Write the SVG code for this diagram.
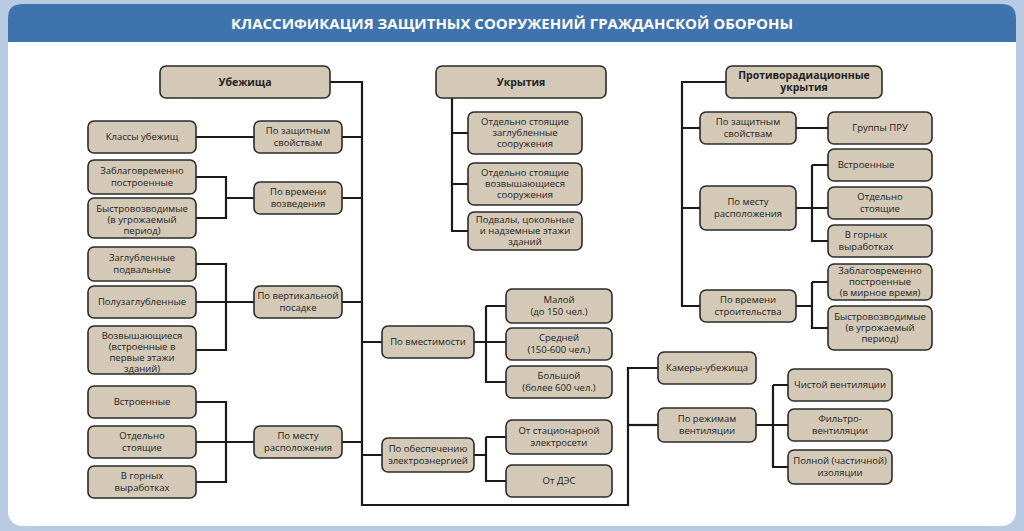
<svg xmlns="http://www.w3.org/2000/svg" width="1024" height="531" viewBox="0 0 1024 531">
<style>
.b{fill:#d3c9b6;stroke:#2b2b2b;stroke-width:1.6}
text{font-family:"Open Sans","Liberation Sans",sans-serif;font-size:9.5px;fill:#222;text-anchor:middle}
.h{font-weight:bold;font-size:10.5px}
.l{fill:none;stroke:#1a1a1a;stroke-width:2.2}
</style>
<rect width="1024" height="531" fill="#b9cbe3"/>
<rect x="8" y="4" width="1008" height="522" rx="14" fill="#fff"/>
<path d="M8,42 V18 Q8,4 22,4 H1002 Q1016,4 1016,18 V42 Z" fill="#3f73ad"/>
<text x="512" y="29" style="font-size:15px;font-weight:bold;fill:#fff">КЛАССИФИКАЦИЯ ЗАЩИТНЫХ СООРУЖЕНИЙ ГРАЖДАНСКОЙ ОБОРОНЫ</text>
<g id="connectors" class="l">
<path d="M330,82 H362 V505 H628 V368 H658"/>
<path d="M628,425 H658"/>
<path d="M196,137 H254 M342,137 H362"/>
<path d="M196,177 H226 V218 H196 M226,198 H254 M342,198 H362"/>
<path d="M196,264 H226 V350 H196 M196,302 H254 M342,302 H362"/>
<path d="M196,402 H226 V482 H196 M196,442 H254 M342,442 H362"/>
<path d="M362,342 H382 M474,342 H506 M486,306 H506 V306 M486,306 V382 H506"/>
<path d="M362,455 H382 M474,455 H486 M486,437 H506 M486,437 V481 H506"/>
<path d="M452,98 V231 H468 M452,133 H468 M452,184 H468"/>
<path d="M726,82 H682 V306 H700 M682,128 H700 M796,128 H828 M682,208 H700 M796,208 H828 M812,165 H828 M812,165 V241 H828 M796,306 H812 M812,282 H828 M812,282 V328 H828"/>
<path d="M756,425 H788 M773,385 H788 M773,385 V467 H788"/>
</g>
<g id="n1"><rect class="b" x="160" y="66" width="170" height="32" rx="6"/><text class="h" x="245" y="86">Убежища</text></g>
<g id="n2"><rect class="b" x="254" y="121" width="88" height="32" rx="6"/><text x="298" y="134">По защитным</text><text x="298" y="146">свойствам</text></g>
<g id="n3"><rect class="b" x="88" y="121" width="108" height="32" rx="6"/><text x="142" y="140">Классы убежищ</text></g>
<g id="n4"><rect class="b" x="254" y="182" width="88" height="32" rx="6"/><text x="298" y="195">По времени</text><text x="298" y="207">возведения</text></g>
<g id="n5"><rect class="b" x="88" y="160" width="108" height="34" rx="6"/><text x="142" y="174">Заблаговременно</text><text x="142" y="186">построенные</text></g>
<g id="n6"><rect class="b" x="88" y="198" width="108" height="40" rx="6"/><text x="142" y="212">Быстровозводимые</text><text x="142" y="223">(в угрожаемый</text><text x="142" y="234">период)</text></g>
<g id="n7"><rect class="b" x="254" y="286" width="88" height="32" rx="6"/><text x="298" y="299">По вертикальной</text><text x="298" y="311">посадке</text></g>
<g id="n8"><rect class="b" x="88" y="247" width="108" height="34" rx="6"/><text x="142" y="261">Заглубленные</text><text x="142" y="273">подвальные</text></g>
<g id="n9"><rect class="b" x="88" y="286" width="108" height="32" rx="6"/><text x="142" y="305">Полузаглубленные</text></g>
<g id="n10"><rect class="b" x="88" y="326" width="108" height="48" rx="6"/><text x="142" y="339">Возвышающиеся</text><text x="142" y="350">(встроенные в</text><text x="142" y="361">первые этажи</text><text x="142" y="372">зданий)</text></g>
<g id="n11"><rect class="b" x="254" y="426" width="88" height="32" rx="6"/><text x="298" y="439">По месту</text><text x="298" y="451">расположения</text></g>
<g id="n12"><rect class="b" x="88" y="386" width="108" height="32" rx="6"/><text x="142" y="405">Встроенные</text></g>
<g id="n13"><rect class="b" x="88" y="426" width="108" height="32" rx="6"/><text x="142" y="439">Отдельно</text><text x="142" y="451">стоящие</text></g>
<g id="n14"><rect class="b" x="88" y="466" width="108" height="32" rx="6"/><text x="142" y="479">В горных</text><text x="142" y="491">выработках</text></g>
<g id="n15"><rect class="b" x="382" y="326" width="92" height="32" rx="6"/><text x="428" y="345">По вместимости</text></g>
<g id="n16"><rect class="b" x="506" y="289" width="106" height="34" rx="6"/><text x="559" y="303">Малой</text><text x="559" y="315">(до 150 чел.)</text></g>
<g id="n17"><rect class="b" x="506" y="328" width="106" height="32" rx="6"/><text x="559" y="341">Средней</text><text x="559" y="353">(150-600 чел.)</text></g>
<g id="n18"><rect class="b" x="506" y="366" width="106" height="32" rx="6"/><text x="559" y="379">Большой</text><text x="559" y="391">(более 600 чел.)</text></g>
<g id="n19"><rect class="b" x="382" y="438" width="92" height="34" rx="6"/><text x="428" y="452">По обеспечению</text><text x="428" y="464">электроэнергией</text></g>
<g id="n20"><rect class="b" x="506" y="420" width="106" height="34" rx="6"/><text x="559" y="434">От стационарной</text><text x="559" y="446">электросети</text></g>
<g id="n21"><rect class="b" x="506" y="465" width="106" height="32" rx="6"/><text x="559" y="484">От ДЭС</text></g>
<g id="n22"><rect class="b" x="436" y="66" width="170" height="32" rx="6"/><text class="h" x="521" y="86">Укрытия</text></g>
<g id="n23"><rect class="b" x="468" y="112" width="114" height="42" rx="6"/><text x="525" y="125">Отдельно стоящие</text><text x="525" y="136">заглубленные</text><text x="525" y="147">сооружения</text></g>
<g id="n24"><rect class="b" x="468" y="163" width="114" height="42" rx="6"/><text x="525" y="176">Отдельно стоящие</text><text x="525" y="187">возвышающиеся</text><text x="525" y="198">сооружения</text></g>
<g id="n25"><rect class="b" x="468" y="212" width="114" height="38" rx="6"/><text x="525" y="223">Подвалы, цокольные</text><text x="525" y="234">и надземные этажи</text><text x="525" y="245">зданий</text></g>
<g id="n26"><rect class="b" x="726" y="66" width="156" height="32" rx="6"/><text class="h" x="804" y="79">Противорадиационные</text><text class="h" x="804" y="91">укрытия</text></g>
<g id="n27"><rect class="b" x="700" y="112" width="96" height="32" rx="6"/><text x="748" y="125">По защитным</text><text x="748" y="137">свойствам</text></g>
<g id="n28"><rect class="b" x="828" y="112" width="104" height="32" rx="6"/><text x="880" y="131">Группы ПРУ</text></g>
<g id="n29"><rect class="b" x="700" y="186" width="96" height="44" rx="6"/><text x="748" y="205">По месту</text><text x="748" y="217">расположения</text></g>
<g id="n30"><rect class="b" x="828" y="149" width="104" height="32" rx="6"/><text x="866" y="168">Встроенные</text></g>
<g id="n31"><rect class="b" x="828" y="187" width="104" height="32" rx="6"/><text x="880" y="200">Отдельно</text><text x="880" y="212">стоящие</text></g>
<g id="n32"><rect class="b" x="828" y="225" width="104" height="32" rx="6"/><text x="866" y="238">В горных</text><text x="866" y="250">выработках</text></g>
<g id="n33"><rect class="b" x="700" y="290" width="96" height="32" rx="6"/><text x="748" y="303">По времени</text><text x="748" y="315">строительства</text></g>
<g id="n34"><rect class="b" x="828" y="264" width="104" height="36" rx="6"/><text x="880" y="274">Заблаговременно</text><text x="880" y="285">построенные</text><text x="880" y="296">(в мирное время)</text></g>
<g id="n35"><rect class="b" x="828" y="306" width="104" height="44" rx="6"/><text x="880" y="320">Быстровозводимые</text><text x="880" y="331">(в угрожаемый</text><text x="880" y="342">период)</text></g>
<g id="n36"><rect class="b" x="658" y="352" width="98" height="32" rx="6"/><text x="707" y="371">Камеры-убежища</text></g>
<g id="n37"><rect class="b" x="658" y="408" width="98" height="34" rx="6"/><text x="707" y="422">По режимам</text><text x="707" y="434">вентиляции</text></g>
<g id="n38"><rect class="b" x="788" y="369" width="104" height="32" rx="6"/><text x="840" y="388">Чистой вентиляции</text></g>
<g id="n39"><rect class="b" x="788" y="409" width="104" height="32" rx="6"/><text x="840" y="422">Фильтро-</text><text x="840" y="434">вентиляции</text></g>
<g id="n40"><rect class="b" x="788" y="450" width="104" height="34" rx="6"/><text x="840" y="464">Полной (частичной)</text><text x="840" y="476">изоляции</text></g>
</svg>
